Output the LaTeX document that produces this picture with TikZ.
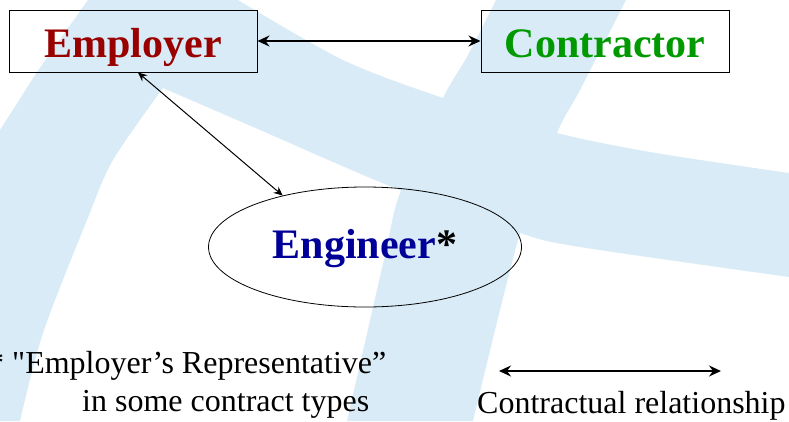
\documentclass[tikz,border=0pt]{standalone}
\usepackage{fontspec}
\setmainfont{Liberation Serif}
\newfontfamily\plainserif{Liberation Serif}
\usetikzlibrary{arrows.meta,shapes.geometric}
\definecolor{swoosh}{RGB}{217,235,247}
\definecolor{empred}{RGB}{153,0,0}
\definecolor{congreen}{RGB}{0,153,0}
\definecolor{engblue}{RGB}{0,0,153}
\begin{document}
\begin{tikzpicture}[x=1pt, y=-1pt, node distance={472pt},
	main/.style = {draw, line width=1pt, minimum width=248pt, minimum height=62pt, inner sep=0pt, text height=32pt, text depth=0pt, font=\fontsize{42}{48}\selectfont\bfseries},
	rel/.style = {{Stealth[length=12pt, width=11pt, inset=4pt]}-{Stealth[length=12pt, width=11pt, inset=4pt]}, line width=1.6pt},
	link/.style = {{Stealth[length=9pt, width=8pt, inset=3pt]}-{Stealth[length=9pt, width=8pt, inset=3pt]}, line width=1pt},
	note/.style = {anchor=base west, inner sep=0pt, font=\fontsize{32}{38}\selectfont}]
		\useasboundingbox (0,0) rectangle (789,421);
		\clip (0,0) rectangle (789,421);
		% background swooshes
		\fill[swoosh] (0,130) -- (37,72) -- (88,0) -- (238,0)
			-- plot[smooth, tension=0.5] coordinates {(238,0) (343,60) (443,98) (557,133) (656,153) (789,173)}
			-- (789,277)
			-- plot[smooth, tension=0.5] coordinates {(789,277) (580,247) (520,233) (400,190) (333,162) (267,133) (163,88)}
			-- plot[smooth, tension=0.5] coordinates {(163,88) (113,160) (87,220) (43,333) (20,421)}
			-- (0,421) -- cycle;
		\fill[swoosh] (496,0) -- (626,0)
			-- plot[smooth, tension=0.5] coordinates {(626,0) (580,90) (557,133) (520,233) (473,421)}
			-- plot[smooth, tension=0.5] coordinates {(347,421) (385,255) (400,193) (443,98) (468,55) (496,0)}
			-- cycle;
		
		\node[main, text=empred] (1) at (133,41) {Employer};
		\node[main, text=congreen] (2) [right of=1] {Contractor};
		\node[draw, ellipse, line width=0.8pt, minimum width=313pt, minimum height=120pt, inner sep=0pt, text height=22pt, text depth=0pt, font=\fontsize{42}{48}\selectfont\bfseries] (3) at (365,247) {\textcolor{engblue}{Engineer}*};
		
		\node[note] (4) at (-12,373) {* {\plainserif"}Employer’s Representative”};
		\node[note] (5) at (82,411) {in some contract types};
		\node[note] (6) at (477,413) {Contractual relationship};
		\coordinate (7) at (499,371);
		\coordinate (8) at (721,371);
		
		\draw[rel] (1) -- (2);
		\draw[link] ([xshift=5pt]1.south) -- (3.148);
		\draw[rel] (7) -- (8);
	\end{tikzpicture}
\end{document}
